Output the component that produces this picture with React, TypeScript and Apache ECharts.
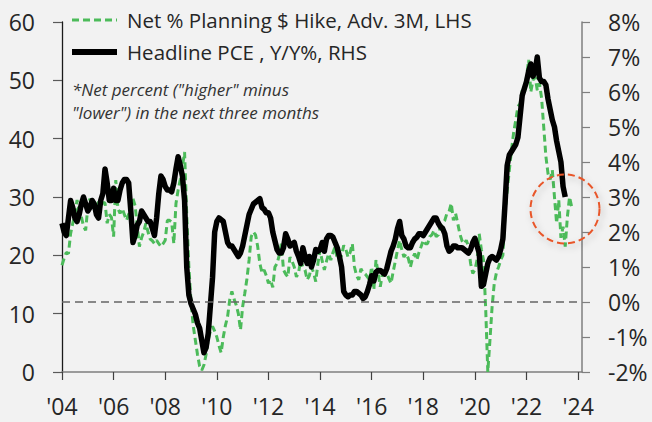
import React, { useEffect, useRef } from "react";
import * as echarts from "echarts";

// Monthly data, Jan 2004 onwards
const pceStartYear = 2004;
const pceYoY: number[] = [
  // 2004
  2.25, 2.0, 1.9, 2.4, 2.9, 2.7, 2.4, 2.3, 2.5, 2.8, 3.0, 2.8,
  // 2005
  2.6, 2.7, 2.9, 2.8, 2.5, 2.4, 2.9, 3.1, 3.8, 3.4, 2.9, 2.9,
  // 2006
  3.25, 2.9, 2.9, 3.2, 3.4, 3.5, 3.5, 3.4, 2.6, 1.7, 1.9, 2.2,
  // 2007
  2.3, 2.6, 2.5, 2.4, 2.3, 2.3, 2.1, 1.9, 2.4, 3.1, 3.6, 3.5,
  // 2008
  3.3, 3.2, 3.2, 3.15, 3.4, 3.8, 4.15, 3.9, 3.6, 2.9, 1.0, 0.2,
  // 2009
  -0.05, -0.2, -0.35, -0.6, -0.75, -1.1, -1.45, -1.3, -0.9, -0.1, 0.7, 2.0,
  // 2010
  2.3, 2.4, 2.35, 2.3, 2.0, 1.7, 1.6, 1.6, 1.5, 1.4, 1.3, 1.4,
  // 2011
  1.6, 1.9, 2.2, 2.5, 2.65, 2.8, 2.85, 2.9, 2.95, 2.7, 2.65, 2.55,
  // 2012
  2.55, 2.4, 2.0, 1.75, 1.5, 1.4, 1.4, 1.55, 1.95, 1.8, 1.6, 1.65,
  // 2013
  1.7, 1.45, 1.3, 1.1, 1.55, 1.3, 1.1, 1.3, 1.0, 1.2, 1.5, 1.45,
  // 2014
  1.5, 1.7, 1.45, 1.8, 1.9, 1.9, 1.85, 1.7, 1.55, 1.3, 1.0, 0.3,
  // 2015
  0.2, 0.15, 0.2, 0.2, 0.3, 0.3, 0.25, 0.2, 0.1, 0.15, 0.3, 0.5,
  // 2016
  0.75, 0.6, 0.85, 0.9, 0.9, 0.85, 0.8, 0.95, 1.2, 1.45, 1.6, 1.8,
  // 2017
  2.1, 2.3, 1.9, 1.8, 1.6, 1.55, 1.55, 1.7, 1.8, 1.85, 1.95, 1.95,
  // 2018
  1.9, 2.0, 2.1, 2.2, 2.3, 2.4, 2.4, 2.25, 2.15, 2.1, 1.95, 1.6,
  // 2019
  1.45, 1.5, 1.6, 1.6, 1.55, 1.55, 1.55, 1.5, 1.45, 1.4, 1.5, 1.7,
  // 2020
  1.82, 1.6, 1.4, 0.45, 0.5, 0.8, 1.1, 1.25, 1.3, 1.25, 1.2, 1.3,
  // 2021
  1.5, 1.8, 2.8, 3.9, 4.2, 4.3, 4.4, 4.5, 4.7, 5.3, 5.9, 6.1,
  // 2022
  6.3, 6.6, 6.8, 6.45, 6.6, 7.0, 6.4, 6.3, 6.3, 6.2, 5.8, 5.5,
  // 2023
  5.2, 5.0, 4.6, 4.3, 4.0, 3.3, 3.0,
];

const nfibStartYear = 2004;
const nfibPriceHikes: number[] = [
  // 2004
  18.3, 19.5, 20.5, 20.3, 23.7, 25.5, 27, 29.5, 27.5, 26.6, 25, 24.3,
  // 2005
  28.3, 29.7, 28.5, 29, 28, 29.2, 28.5, 29, 29, 25.5, 27, 26.5,
  // 2006
  23.2, 32.9, 28, 27.2, 28, 27, 26, 27, 28.5, 29.7, 28.5, 25,
  // 2007
  21.5, 23, 24, 25.5, 24, 22.8, 22.5, 22, 22.6, 22, 21.5, 22,
  // 2008
  22.6, 26, 26, 25.7, 22, 28.9, 31.2, 33, 35.2, 37.7, 27, 18,
  // 2009
  12, 8, 5.5, 3.0, 1.0, 0.3, 1.2, 3, 5.5, 7, 7.8, 7,
  // 2010
  6.0, 4.5, 3.3, 6, 8, 9.5, 12.4, 13.8, 12.5, 11.5, 10, 7.2,
  // 2011
  11.2, 13.5, 16, 19.2, 23.2, 24, 23.5, 21.5, 18.6, 17, 17.5, 16.5,
  // 2012
  15.2, 15.8, 14.5, 18, 18.6, 20, 22, 17.5, 16.8, 16.3, 19.7, 19,
  // 2013
  18, 16.3, 17, 19.2, 18, 17.5, 15.8, 16.5, 18, 17, 15.5, 18.6,
  // 2014
  20.9, 19, 17.5, 19, 20.3, 19.2, 20.5, 21.5, 19.2, 19.2, 20, 21.7,
  // 2015
  21, 19.7, 20.5, 22, 18, 16.5, 15.8, 17.7, 17, 16.8, 16.3, 15.8,
  // 2016
  18, 14.1, 19.2, 17, 14.6, 16.8, 17, 17, 16, 15.2, 17.2, 19,
  // 2017
  20.9, 22.6, 21, 19.7, 20.3, 19.5, 18, 19.5, 20.3, 19.2, 20.5, 21.5,
  // 2018
  22.6, 22, 22, 23.2, 23.5, 24.3, 23.2, 23.5, 24.9, 25.5, 26, 27.2,
  // 2019
  27.5, 28.9, 26, 27.2, 25.5, 23.7, 22.5, 22, 22.6, 21.5, 18.6, 16.9,
  // 2020
  17.5, 19.2, 23.7, 21, 19.2, 11, 0, 5.5, 11.2, 15.2, 17, 18,
  // 2021
  19.2, 20, 27.2, 31, 34.6, 38, 41, 43.2, 45.5, 46, 48.3, 47.7,
  // 2022
  50.6, 53.5, 48, 50, 50.6, 48.3, 49.5, 47, 42, 37, 34, 33,
  // 2023
  34.6, 30, 25.5, 29.5, 23, 24.9, 21.5, 26.6, 30, 28.3,
];

const xTickYears: number[] = [2004, 2006, 2008, 2010, 2012, 2014, 2016, 2018, 2020, 2022, 2024];
const legendNames = ["Net % Planning $ Hike, Adv. 3M, LHS", "Headline PCE , Y/Y%, RHS"];
const noteLines = ['*Net percent ("higher" minus', '"lower") in the next three months'];

const toPairs = (start: number, vals: number[]) =>
  vals.map((v, i) => [start + i / 12, v]);

const GREEN = "#4cbb5a";

export default function App() {
  const ref = useRef<HTMLDivElement>(null);

  useEffect(() => {
    document.body.style.margin = "0";
    document.body.style.background = "#f2f2f2";
    if (!ref.current) return;
    const chart = echarts.init(ref.current, undefined, { renderer: "svg" });
    const labelColor = "#262626";
    const font = "'Open Sans', 'Noto Sans', sans-serif";

    chart.setOption({
      animation: false,
      backgroundColor: "#f2f2f2",
      textStyle: { fontFamily: font },
      grid: { left: 62, right: 70, top: 22, bottom: 50, containLabel: false },
      legend: { show: false },
      xAxis: {
        type: "value",
        min: 2004,
        max: 2024.15,
        interval: 2,
        splitLine: { show: false },
        axisLine: { show: true, onZero: false, lineStyle: { color: "#7f7f7f", width: 1.5 } },
        axisTick: {
          show: true,
          length: 8,
          customValues: xTickYears,
          lineStyle: { color: "#404040", width: 1.2 },
        },
        axisLabel: {
          customValues: xTickYears,
          fontSize: 23,
          color: labelColor,
          margin: 22,
          formatter: (v: number) => "'" + String(Math.round(v)).slice(2),
        },
      },
      yAxis: [
        {
          type: "value",
          min: 0,
          max: 60,
          interval: 10,
          position: "left",
          splitLine: { show: false },
          axisLine: { show: true, lineStyle: { color: "#1a1a1a", width: 1.3 } },
          axisTick: { show: true, length: 9, lineStyle: { color: "#595959", width: 1.2 } },
          axisLabel: { fontSize: 23, color: labelColor, margin: 27 },
        },
        {
          type: "value",
          min: -2,
          max: 8,
          interval: 1,
          position: "right",
          splitLine: { show: false },
          axisLine: { show: true, lineStyle: { color: "#7f7f7f", width: 1.5 } },
          axisTick: { show: true, length: 8, lineStyle: { color: "#7f7f7f", width: 1.2 } },
          axisLabel: {
            fontSize: 23,
            color: labelColor,
            margin: 26,
            formatter: (v: number) => v + "%",
          },
        },
      ],
      series: [
        {
          name: legendNames[0],
          type: "line",
          yAxisIndex: 0,
          showSymbol: false,
          symbol: "none",
          data: toPairs(nfibStartYear, nfibPriceHikes),
          lineStyle: { color: GREEN, width: 3, type: [7, 4] },
          itemStyle: { color: GREEN },
          z: 2,
        },
        {
          name: legendNames[1],
          type: "line",
          yAxisIndex: 1,
          showSymbol: false,
          symbol: "none",
          data: toPairs(pceStartYear, pceYoY),
          lineStyle: { color: "#000000", width: 5.5, join: "round" },
          itemStyle: { color: "#000000" },
          z: 3,
          markLine: {
            silent: true,
            symbol: "none",
            label: { show: false },
            lineStyle: { color: "#666666", width: 1.5, type: [8, 5] },
            data: [{ yAxis: 0 }],
          },
        },
      ],
      graphic: [
        {
          type: "line",
          shape: { x1: 72, y1: 20, x2: 117, y2: 20 },
          style: { stroke: GREEN, lineWidth: 3, lineDash: [7, 4] },
        },
        {
          type: "text",
          x: 127,
          y: 20,
          style: {
            text: legendNames[0],
            fontSize: 20.5,
            fill: labelColor,
            fontFamily: font,
            verticalAlign: "middle",
          },
        },
        {
          type: "line",
          shape: { x1: 72, y1: 52, x2: 117, y2: 52 },
          style: { stroke: "#000000", lineWidth: 6 },
        },
        {
          type: "text",
          x: 127,
          y: 52,
          style: {
            text: legendNames[1],
            fontSize: 20.5,
            fill: labelColor,
            fontFamily: font,
            verticalAlign: "middle",
          },
        },
        {
          type: "text",
          left: 72,
          top: 78,
          style: {
            text: noteLines.join("\n"),
            fontSize: 17,
            fontStyle: "italic",
            lineHeight: 23,
            fill: "#333333",
            fontFamily: font,
          },
        },
        {
          type: "circle",
          shape: { cx: 565, cy: 209, r: 34.5 },
          style: {
            fill: "none",
            stroke: "#e8572a",
            lineWidth: 2,
            lineDash: [7, 4],
            shadowBlur: 6,
            shadowColor: "rgba(0,0,0,0.25)",
            shadowOffsetX: 2,
            shadowOffsetY: 3,
          },
          z: 10,
        },
      ],
    });

    return () => chart.dispose();
  }, []);

  return <div ref={ref} style={{ width: 652, height: 422 }} />;
}
